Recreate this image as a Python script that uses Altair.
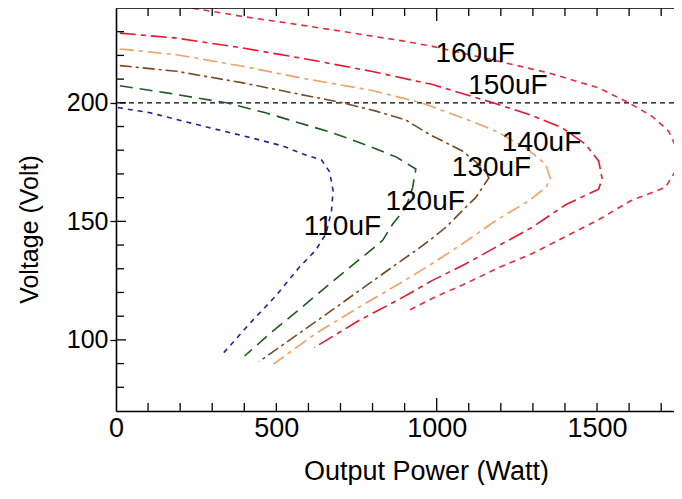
import altair as alt
import pandas as pd

series_names = ["110uF", "120uF", "130uF", "140uF", "150uF", "160uF"]

# Output power (W) and voltage (V)
p110 = [6, 106, 209, 313, 417, 520, 583, 641, 666, 677, 672, 655, 622, 572, 500, 417, 334]
v110 = [198.0, 195.8, 192.3, 188.8, 185.4, 181.8, 178.4, 175.9, 170.9, 162.9, 154.5, 144.8, 137.7, 130.7, 118.8, 106.9, 94.3]

p120 = [12, 158, 344, 469, 572, 676, 780, 873, 935, 925, 904, 863, 831, 759, 676, 572, 489, 401]
v120 = [207.2, 204.2, 200.0, 195.7, 191.5, 187.3, 182.2, 177.2, 172.1, 164.3, 155.9, 148.9, 141.9, 133.9, 124.7, 112.9, 103.7, 93.2]

p130 = [12, 189, 396, 603, 707, 811, 904, 977, 1080, 1143, 1163, 1122, 1080, 1029, 977, 935, 883, 790, 666, 541, 446]
v130 = [215.7, 213.3, 208.4, 202.8, 200.0, 196.5, 192.7, 186.7, 179.7, 172.7, 168.4, 160.1, 154.5, 147.5, 141.9, 137.7, 132.8, 123.8, 111.8, 99.9, 90.8]

p140 = [12, 189, 396, 588, 796, 952, 1080, 1184, 1277, 1340, 1355, 1340, 1288, 1184, 1080, 977, 883, 759, 624, 491]
v140 = [222.7, 220.3, 215.4, 210.2, 205.3, 200.0, 193.7, 188.1, 181.1, 174.1, 167.8, 164.3, 158.7, 150.3, 140.5, 131.4, 123.7, 113.9, 102.8, 89.8]

p150 = [12, 189, 396, 588, 796, 987, 1176, 1288, 1391, 1464, 1505, 1516, 1505, 1402, 1298, 1194, 1091, 987, 883, 759, 619]
v150 = [229.4, 227.3, 223.1, 218.6, 213.3, 207.7, 200.0, 195.1, 189.5, 182.5, 175.5, 168.0, 163.6, 157.0, 147.5, 139.8, 132.1, 125.1, 117.1, 108.3, 96.8]

p160 = [0, 240, 396, 572, 707, 904, 987, 1194, 1350, 1505, 1599, 1671, 1723, 1749, 1754, 1745, 1713, 1605, 1505, 1402, 1298, 1194, 1091, 992, 904]
v160 = [243.0, 239.9, 236.4, 232.9, 230.1, 225.9, 223.8, 217.5, 212.6, 206.3, 200.0, 194.4, 188.1, 180.5, 176.0, 171.3, 164.3, 158.7, 150.7, 143.6, 136.4, 130.5, 123.8, 117.9, 111.8]

label_power = [706, 964, 1171, 1327, 1222, 1120]
label_voltage = [147.7, 158.2, 172.4, 182.9, 207.0, 220.7]

x_labels = [0, 500, 1000, 1500]
y_labels = [100, 150, 200]
x_minor = [100, 200, 300, 400, 500, 600, 700, 800, 900, 1100, 1200, 1300, 1400, 1500, 1600, 1700]
x_major = [1000]
y_minor = [80, 90, 110, 120, 130, 140, 160, 170, 180, 190, 210, 220, 230]
ref_voltage = [200]

colors = ["#22229c", "#1f5a1f", "#7a4a22", "#f2a064", "#e8162e", "#ee2a3a"]
dashes = [[5, 5], [13, 7], [12, 4, 3, 4], [14, 5, 4, 5], [16, 5, 5, 5], [6, 5]]

rows = []
for name, ps, vs in zip(series_names, [p110, p120, p130, p140, p150, p160],
                        [v110, v120, v130, v140, v150, v160]):
    for i, (p, v) in enumerate(zip(ps, vs)):
        rows.append({"series": name, "i": i, "power": p, "voltage": v})
df = pd.DataFrame(rows)

W, H = 558, 403
FONT = "Liberation Sans"
xs = alt.Scale(domain=[0, 1740], nice=False, zero=False)
ys = alt.Scale(domain=[70, 240], nice=False, zero=False)

lines = alt.Chart(df).mark_line(strokeWidth=1.6, clip=True).encode(
    x=alt.X("power:Q", scale=xs, axis=alt.Axis(
        values=x_labels, format="d", title="Output Power (Watt)", tickSize=0, labelPadding=4,
        labelFontSize=27, titleFontSize=27, titleX=310, titleY=68, titleBaseline="alphabetic",
        titleAlign="center", grid=False,
        domainColor="black", domainWidth=1.6, labelColor="black", titleColor="black",
        labelFont=FONT, titleFont=FONT, titleFontWeight="normal", labelFlush=False)),
    y=alt.Y("voltage:Q", scale=ys, axis=alt.Axis(
        values=y_labels, format="d", title="Voltage (Volt)", tickSize=6, tickColor="black", tickWidth=1.3,
        labelPadding=2, labelFontSize=25, titleFontSize=25, titleX=-87, titleY=221,
        titleBaseline="middle", titleAlign="center", grid=False,
        domainColor="black", domainWidth=1.6, labelColor="black", titleColor="black",
        labelFont=FONT, titleFont=FONT, titleFontWeight="normal", labelFlush=False)),
    color=alt.Color("series:N", scale=alt.Scale(domain=series_names, range=colors), legend=None),
    strokeDash=alt.StrokeDash("series:N", scale=alt.Scale(domain=series_names, range=dashes), legend=None),
    order="i:Q",
    detail="series:N",
)

ref = alt.Chart(pd.DataFrame({"voltage": ref_voltage})).mark_rule(
    color="black", strokeDash=[5, 4], strokeWidth=1.3).encode(y=alt.Y("voltage:Q", scale=ys))

labels = alt.Chart(pd.DataFrame({"power": label_power, "voltage": label_voltage, "name": series_names})).mark_text(
    font=FONT, fontSize=28, color="black", align="center", baseline="middle").encode(
    x=alt.X("power:Q", scale=xs), y=alt.Y("voltage:Q", scale=ys), text="name:N")

def xtick(vals, y0, y1):
    return alt.Chart(pd.DataFrame({"power": vals})).mark_rule(color="black", strokeWidth=1.3).encode(
        x=alt.X("power:Q", scale=xs), y=alt.value(y0), y2=alt.value(y1))

def ytick(vals, length):
    return alt.Chart(pd.DataFrame({"voltage": vals})).mark_rule(color="black", strokeWidth=1.3).encode(
        y=alt.Y("voltage:Q", scale=ys), x=alt.value(0), x2=alt.value(length))

top_border = alt.Chart(pd.DataFrame({"power": [0]})).mark_rule(color="black", strokeWidth=1.6).encode(
    x=alt.value(0), x2=alt.value(W), y=alt.value(0))

chart = alt.layer(
    ref, lines, labels,
    xtick(x_minor, H, H - 8), xtick(x_major, H, H - 13),
    xtick(x_minor, 0, 8), xtick(x_major, 0, 13),
    ytick(y_minor, 8), ytick(y_labels, 10),
    top_border,
).properties(
    width=W, height=H,
    autosize=alt.AutoSizeParams(type="none"),
    padding={"left": 108, "top": 0, "right": 0, "bottom": 74},
).configure_view(stroke=None).configure(background="white")

chart.save("out.html", embed_options={"renderer": "svg", "actions": False})
